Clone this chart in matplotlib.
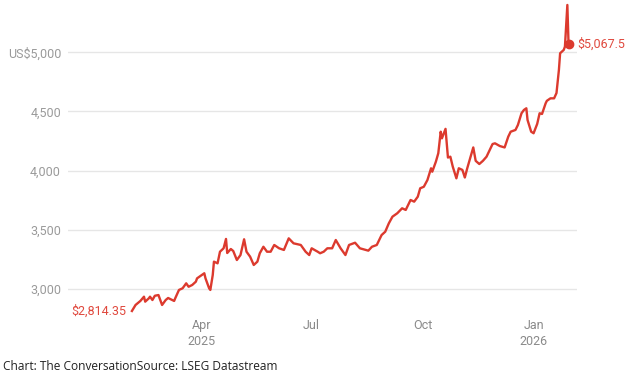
import matplotlib
matplotlib.use("Agg")
import matplotlib.pyplot as plt
from datetime import date

dates = [
    "2025-02-02", "2025-02-05", "2025-02-09", "2025-02-12", "2025-02-13", "2025-02-16",
    "2025-02-17", "2025-02-19", "2025-02-21", "2025-02-24", "2025-02-27", "2025-03-02",
    "2025-03-04", "2025-03-09", "2025-03-10", "2025-03-13", "2025-03-16", "2025-03-19",
    "2025-03-21", "2025-03-24", "2025-03-27", "2025-03-28", "2025-04-01", "2025-04-03",
    "2025-04-04", "2025-04-07", "2025-04-08", "2025-04-10", "2025-04-11", "2025-04-14",
    "2025-04-16", "2025-04-19", "2025-04-21", "2025-04-22", "2025-04-25", "2025-04-27",
    "2025-04-30", "2025-05-03", "2025-05-06", "2025-05-08", "2025-05-11", "2025-05-14",
    "2025-05-17", "2025-05-19", "2025-05-22", "2025-05-25", "2025-05-28", "2025-05-31",
    "2025-06-04", "2025-06-08", "2025-06-12", "2025-06-16", "2025-06-22", "2025-06-26",
    "2025-06-29", "2025-07-01", "2025-07-06", "2025-07-08", "2025-07-11", "2025-07-14",
    "2025-07-18", "2025-07-21", "2025-07-25", "2025-07-29", "2025-08-01", "2025-08-06",
    "2025-08-10", "2025-08-17", "2025-08-20", "2025-08-24", "2025-08-28", "2025-08-31",
    "2025-09-03", "2025-09-06", "2025-09-10", "2025-09-14", "2025-09-17", "2025-09-21",
    "2025-09-24", "2025-09-27", "2025-09-29", "2025-10-02", "2025-10-05", "2025-10-08",
    "2025-10-09", "2025-10-12", "2025-10-14", "2025-10-16", "2025-10-17", "2025-10-20",
    "2025-10-22", "2025-10-24", "2025-10-26", "2025-10-29", "2025-10-31", "2025-11-03",
    "2025-11-05", "2025-11-07", "2025-11-09", "2025-11-12", "2025-11-14", "2025-11-17",
    "2025-11-20", "2025-11-23", "2025-11-25", "2025-11-28", "2025-11-30", "2025-12-04",
    "2025-12-08", "2025-12-11", "2025-12-13", "2025-12-17", "2025-12-19", "2025-12-22",
    "2025-12-24", "2025-12-26", "2025-12-27", "2025-12-29", "2025-12-30", "2026-01-01",
    "2026-01-04", "2026-01-06", "2026-01-08", "2026-01-11", "2026-01-12", "2026-01-15",
    "2026-01-18", "2026-01-20", "2026-01-22", "2026-01-23", "2026-01-26", "2026-01-27",
    "2026-01-29", "2026-01-30",
]
prices = [
    2814.35, 2865, 2899, 2935, 2893, 2921,
    2935, 2907, 2943, 2949, 2865, 2907,
    2924, 2899, 2924, 2992, 3006, 3048,
    3019, 3034, 3062, 3090, 3118, 3133,
    3090, 3006, 2992, 3118, 3231, 3217,
    3315, 3344, 3423, 3304, 3338, 3321,
    3245, 3287, 3420, 3315, 3273, 3203,
    3231, 3302, 3357, 3315, 3315, 3372,
    3344, 3330, 3428, 3386, 3372, 3315,
    3287, 3344, 3315, 3302, 3315, 3344,
    3344, 3414, 3344, 3287, 3372, 3391,
    3344, 3324, 3357, 3372, 3456, 3484,
    3555, 3611, 3640, 3682, 3668, 3752,
    3738, 3780, 3851, 3864, 3921, 4020,
    3991, 4076, 4147, 4329, 4273, 4353,
    4111, 4118, 4034, 3935, 4020, 4006,
    3942, 4020, 4090, 4196, 4083, 4056,
    4083, 4118, 4160, 4225, 4231, 4208,
    4196, 4287, 4329, 4344, 4386, 4485,
    4513, 4527, 4428, 4361, 4329, 4316,
    4395, 4485, 4479, 4569, 4590, 4611,
    4611, 4656, 4851, 4992, 5020, 5048,
    5400, 5067.5,
]

y_ticks = [3000, 3500, 4000, 4500, 5000]
y_tick_labels = ["3,000", "3,500", "4,000", "4,500", "US$5,000"]
x_tick_dates = ["2025-04-01", "2025-07-01", "2025-10-01", "2026-01-01"]
x_tick_labels = ["Apr\n2025", "Jul", "Oct", "Jan\n2026"]
start_label = "$2,814.35"
end_label = "$5,067.5"
caption = "Chart: The ConversationSource: LSEG Datastream"

RED = "#dc3a2e"
LABEL_RED = "#e0493e"
GRAY = "#9a9a9a"

x = [date.fromisoformat(d) for d in dates]

W, H = 627, 383
fig = plt.figure(figsize=(W / 100, H / 100), dpi=100)
ax_l, ax_r, ax_t, ax_b = 68, 577, 0, 313
ax = fig.add_axes([ax_l / W, (H - ax_b) / H, (ax_r - ax_l) / W, (ax_b - ax_t) / H])

ax.plot(x, prices, color=RED, lw=1.7, solid_joinstyle="round", clip_on=False, zorder=3)
ax.plot([x[-1]], [prices[-1]], "o", color=RED, ms=6, clip_on=False, zorder=4)

ax.set_xlim(date(2024, 12, 11), date(2026, 2, 6))
# y scale: 3000 at px 289, 5000 at px 52.3
ppv = (289 - 52.3) / 2000.0
ax.set_ylim(3000 - (ax_b - 289) / ppv, 3000 + (289 - ax_t) / ppv)

for s in ax.spines.values():
    s.set_visible(False)
ax.set_yticks(y_ticks)
ax.set_yticklabels(y_tick_labels)
ax.set_xticks([date.fromisoformat(d) for d in x_tick_dates])
ax.set_xticklabels(x_tick_labels, linespacing=1.3)
ax.tick_params(axis="y", length=0, pad=5, labelsize=9, labelcolor=GRAY)
ax.tick_params(axis="x", length=0, pad=4, labelsize=9, labelcolor="#8a8a8a")
for lab in ax.get_xticklabels() + ax.get_yticklabels():
    lab.set_fontfamily("Roboto")
ax.grid(axis="y", color="#e6e6e6", lw=1)
ax.set_axisbelow(True)

ax.annotate(start_label, (x[0], prices[0]), xytext=(-4, 0), textcoords="offset points",
            ha="right", va="center", color=LABEL_RED, fontsize=9, family="Roboto")
ax.annotate(end_label, (x[-1], prices[-1]), xytext=(6, 0), textcoords="offset points",
            ha="left", va="center", color=LABEL_RED, fontsize=9, family="Roboto")

fig.text(3 / W, 1 - 366 / H, caption, ha="left", va="center", fontsize=8.6,
         family="Open Sans", color="#222222")

fig.savefig("out.png", dpi=100)
